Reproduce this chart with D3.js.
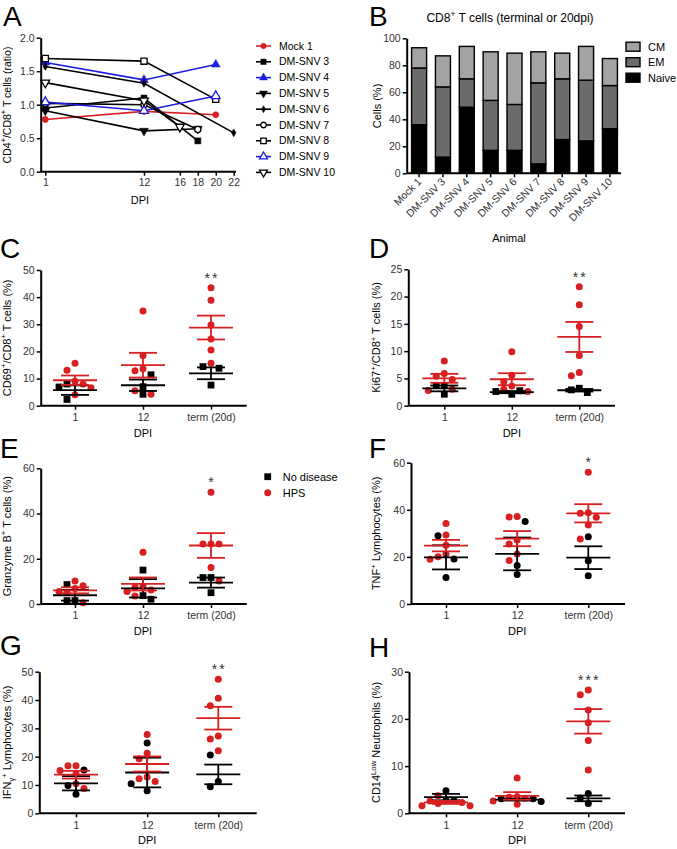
<!DOCTYPE html>
<html>
<head>
<meta charset="utf-8">
<script src="https://cdn.jsdelivr.net/npm/d3@7"></script>
<style>
body { margin: 0; background: #fff; }
svg text { font-family: "Liberation Sans", Arial, Helvetica, sans-serif; }
</style>
</head>
<body>
<script>
'use strict';

// ---- panel A : CD4/CD8 ratio over time ----
const animals = ["Mock 1", "DM-SNV 3", "DM-SNV 4", "DM-SNV 5", "DM-SNV 6", "DM-SNV 7", "DM-SNV 8", "DM-SNV 9", "DM-SNV 10"];
const ratioTicks = [1, 12, 16, 18, 20, 22];
const ratioDays = [[1, 12, 20], [1, 12, 18], [1, 12, 20], [1, 12, 18], [1, 12, 22], [1, 12, 18], [1, 12, 20], [1, 12, 20], [1, 12, 16]];
const ratioValues = [
  [0.78, 0.90, 0.85], [0.95, 1.10, 0.46], [1.63, 1.37, 1.60], [0.91, 0.61, 0.64], [1.57, 1.32, 0.58],
  [1.02, 1.00, 0.63], [1.69, 1.65, 1.08], [1.04, 0.91, 1.13], [1.33, 1.06, 0.67]
];

// ---- panel B : CD8 subsets ----
const subsets = ["Naive", "EM", "CM"];
const naivePct = [36, 12, 49, 17, 17, 7, 25, 24, 33];
const emPct = [42, 52, 21, 37, 34, 60, 45, 45, 32];
const cmPct = [15, 23, 24, 36, 38, 23, 19, 25, 20];

// ---- panels C-H : per time point, no disease vs HPS ----
const dpiLabels = ["1", "12", "term (20d)"];
const cd69NoDisease = [[8.0, 2.3, 6.9], [11.4, 7.0, 4.2], [14.4, 13.8, 7.6]];
const cd69Hps = [[15.6, 13.1, 9.0, 8.0, 6.6, 4.0], [34.9, 18.5, 13.6, 12.9, 5.5, 4.2], [43.5, 38.9, 29.7, 24.6, 20.5, 15.6]];
const ki67NoDisease = [[3.7, 3.7, 2.1], [2.1, 2.6, 2.75], [3.2, 2.4, 2.9]];
const ki67Hps = [[8.2, 5.9, 5.4, 4.8, 3.0, 2.8], [9.9, 5.6, 4.4, 3.6, 3.0, 2.6], [21.8, 18.5, 14.5, 9.2, 6.1, 5.5]];
const grzbNoDisease = [[8.6, 1.5, 1.5], [15.0, 3.7, 2.1], [11.7, 11.7, 5.0]];
const grzbHps = [[10.2, 8.1, 6.9, 5.5, 5.0, 0.6], [22.9, 7.7, 7.4, 6.2, 5.5, 3.5], [49.4, 26.5, 26.5, 26.5, 16.1, 10.2]];
const tnfNoDisease = [[29.0, 19.1, 11.3], [35.0, 16.3, 12.5], [28.6, 18.4, 12.0]];
const tnfHps = [[34.2, 29.3, 25.0, 21.1, 20.1, 19.0], [37.2, 36.9, 27.2, 25.5, 21.2, 18.5], [55.9, 38.8, 38.5, 36.8, 33.5, 27.6]];
const ifngNoDisease = [[15.3, 9.8, 6.7], [24.8, 10.4, 8.0], [20.6, 11.2, 9.4]];
const ifngHps = [[16.8, 16.8, 15.1, 13.9, 10.4, 8.8], [27.8, 21.2, 19.3, 12.8, 12.2, 11.2], [47.3, 40.6, 38.0, 27.3, 26.2, 22.1]];
const cd14NoDisease = [[4.8, 2.75, 2.75], [3.1, 3.1, 2.5], [4.2, 2.1, 3.2]];
const cd14Hps = [[3.7, 2.6, 2.3, 2.1, 1.6, 1.6], [7.5, 3.5, 3.4, 3.2, 2.6, 1.9], [26.1, 25.1, 21.9, 19.2, 15.4, 9.2]];
const termStars = ["**", "**", "*", "*", "**", "***"];
const groupNames = ["No disease", "HPS"];

const RED = "#d81f22", BLUE = "#1d1de0", TICK = "#333";

const svg = d3.select("body").append("svg")
  .attr("width", 677)
  .attr("height", 849);

// text with super/subscript pieces
function richText(sel, parts, size) {
  let shift = 0;
  parts.forEach(([t, kind]) => {
    const target = kind === "sup" ? -0.4 * size : kind === "sub" ? 0.25 * size : 0;
    sel.append("tspan")
      .attr("dy", target - shift)
      .attr("font-size", kind ? size * 0.7 : size)
      .text(t);
    shift = target;
  });
  return sel;
}

function yLabel(x, yMid, parts, size) {
  const t = svg.append("text")
    .attr("transform", `translate(${x},${yMid}) rotate(-90)`)
    .attr("text-anchor", "middle")
    .attr("dy", "0.35em");
  richText(t, parts, size || 11);
}

function letter(ch, x, y) {
  svg.append("text").attr("x", x).attr("y", y).attr("font-size", 28).text(ch);
}

function styleAxis(ax) {
  ax.attr("font-family", null).attr("font-size", null);
  ax.select(".domain").attr("stroke-width", 2);
  ax.selectAll(".tick line").attr("stroke-width", 1.5);
  ax.selectAll(".tick text").attr("font-size", 10.5).attr("fill", TICK);
}

function marker(g, kind, color, x, y, size) {
  const open = kind.endsWith("Open");
  const base = kind.replace("Open", "");
  const type = {
    circle: d3.symbolCircle, square: d3.symbolSquare, triangle: d3.symbolTriangle,
    triangleDown: d3.symbolTriangle, diamond: d3.symbolDiamond
  }[base];
  g.append("path")
    .attr("d", d3.symbol(type, size)())
    .attr("transform", `translate(${x},${y}) rotate(${base === "triangleDown" ? 180 : 0})`)
    .attr("fill", open ? "#fff" : color)
    .attr("stroke", color)
    .attr("stroke-width", open ? 1.3 : 0.5);
}

// ================= panel A =================
function drawPanelA() {
  const x = d3.scaleLinear().domain([1, 22]).range([45.3, 233.7]);
  const y = d3.scaleLinear().domain([0, 2]).range([171.7, 37.7]);
  const colors = [RED, "#000", BLUE, "#000", "#000", "#000", "#000", BLUE, "#000"];
  const kinds = ["circle", "square", "triangle", "triangleDown", "diamond", "circleOpen", "squareOpen", "triangleOpen", "triangleDownOpen"];
  const sizes = [30, 36, 34, 34, 18, 30, 38, 34, 34];
  const g = svg.append("g");

  const line = d3.line().x(d => x(d[0])).y(d => y(d[1]));
  animals.forEach((a, i) => {
    const pts = d3.zip(ratioDays[i], ratioValues[i]);
    g.append("path").datum(pts)
      .attr("d", line).attr("fill", "none")
      .attr("stroke", colors[i]).attr("stroke-width", 1.6);
  });
  animals.forEach((a, i) => {
    ratioDays[i].forEach((d, j) => marker(g, kinds[i], colors[i], x(d), y(ratioValues[i][j]), sizes[i]));
  });

  const ya = svg.append("g").attr("transform", "translate(40.7,0)")
    .call(d3.axisLeft(y).tickValues([0, 0.5, 1, 1.5, 2]).tickFormat(d3.format(".1f")).tickSize(4).tickSizeOuter(0).tickPadding(2));
  styleAxis(ya);
  const xa = svg.append("g").attr("transform", "translate(0,171.7)")
    .call(d3.axisBottom(x).tickValues(ratioTicks).tickSize(4).tickPadding(3));
  xa.select(".domain").remove();
  styleAxis(xa);
  svg.append("line").attr("x1", 40.7).attr("x2", 236).attr("y1", 171.7).attr("y2", 171.7)
    .attr("stroke", "#000").attr("stroke-width", 2);
  svg.append("text").attr("x", 140).attr("y", 204).attr("text-anchor", "middle").attr("font-size", 11).text("DPI");
  yLabel(10.5, 105, [["CD4"], ["+", "sup"], ["/CD8"], ["+", "sup"], [" T cells (ratio)"]], 10.5);

  // legend
  const lg = svg.append("g");
  animals.forEach((a, i) => {
    const ly = 46 + i * 15.8;
    lg.append("line").attr("x1", 256).attr("x2", 271).attr("y1", ly).attr("y2", ly)
      .attr("stroke", colors[i]).attr("stroke-width", 1.6);
    marker(lg, kinds[i], colors[i], 263.5, ly, sizes[i] * 0.8);
    lg.append("text").attr("x", 279).attr("y", ly).attr("dy", "0.35em").attr("font-size", 10.5).text(a);
  });
  letter("A", 3, 26);
}

// ================= panel B =================
function drawPanelB() {
  const x = d3.scaleBand().domain(animals).range([408, 621]).paddingInner(0.37).paddingOuter(0.15);
  const y = d3.scaleLinear().domain([0, 100]).range([173.3, 38.3]);
  const fills = { Naive: "#000", EM: "#6b6b6b", CM: "#a3a3a3" };
  const rows = animals.map((a, i) => ({ animal: a, Naive: naivePct[i], EM: emPct[i], CM: cmPct[i] }));
  const series = d3.stack().keys(subsets)(rows);

  svg.append("g").selectAll("g").data(series).join("g")
    .attr("fill", d => fills[d.key])
    .selectAll("rect").data(d => d).join("rect")
    .attr("x", d => x(d.data.animal))
    .attr("width", x.bandwidth())
    .attr("y", d => y(d[1]))
    .attr("height", d => y(d[0]) - y(d[1]))
    .attr("stroke", "#000").attr("stroke-width", 1.4);

  const ya = svg.append("g").attr("transform", "translate(406.7,0)")
    .call(d3.axisLeft(y).tickValues([0, 20, 40, 60, 80, 100]).tickSize(4).tickSizeOuter(0).tickPadding(2));
  styleAxis(ya);
  const xa = svg.append("g").attr("transform", "translate(0,173.3)")
    .call(d3.axisBottom(x).tickSize(4).tickSizeOuter(0));
  xa.select(".domain").remove();
  styleAxis(xa);
  xa.selectAll(".tick text")
    .attr("text-anchor", "end")
    .attr("dy", null).attr("y", 0)
    .attr("transform", "translate(3,9) rotate(-45)");
  svg.append("line").attr("x1", 406.7).attr("x2", 621).attr("y1", 173.3).attr("y2", 173.3)
    .attr("stroke", "#000").attr("stroke-width", 2);

  const t = svg.append("text").attr("x", 510).attr("y", 22).attr("text-anchor", "middle");
  richText(t, [["CD8"], ["+", "sup"], [" T cells (terminal or 20dpi)"]], 12);
  svg.append("text").attr("x", 509).attr("y", 242).attr("text-anchor", "middle").attr("font-size", 11).text("Animal");
  yLabel(381, 106, [["Cells (%)"]]);

  subsets.slice().reverse().forEach((s, i) => {
    const ly = 46.7 + i * 15.5;
    svg.append("rect").attr("x", 626).attr("y", ly - 4.5).attr("width", 14).attr("height", 9)
      .attr("fill", fills[s]).attr("stroke", "#000").attr("stroke-width", 1.4);
    svg.append("text").attr("x", 648).attr("y", ly).attr("dy", "0.35em").attr("font-size", 11).text(s);
  });
  letter("B", 369, 26);
}

// ================= scatter panels C-H =================
function dodge(pts, step, minDist) {
  const placed = [];
  pts.slice().sort((a, b) => a.py - b.py).forEach(p => {
    for (let k = 0; k < 30; k++) {
      const off = (k % 2 ? -1 : 1) * Math.ceil(k / 2) * step;
      if (placed.every(q => Math.hypot(q.dx - off, q.py - p.py) >= minDist)) { p.dx = off; break; }
    }
    placed.push(p);
  });
}

function scatterPanel(o) {
  const x = d3.scalePoint().domain(dpiLabels).range(o.cats);
  const y = d3.scaleLinear().domain([0, o.max]).range(o.yr);
  const g = svg.append("g");

  const pts = [];
  dpiLabels.forEach((c, ci) => {
    const group = [];
    o.black[ci].forEach(v => group.push({ c, v, red: false, py: y(v) }));
    o.red[ci].forEach(v => group.push({ c, v, red: true, py: y(v) }));
    dodge(group, 8, 7.4);
    pts.push(...group);
  });

  const drawPts = list => list.forEach(p => {
    const cx = x(p.c) + p.dx;
    if (p.red || !o.squares) {
      g.append("circle").attr("cx", cx).attr("cy", p.py).attr("r", 3.5).attr("fill", p.red ? RED : "#000");
    } else {
      g.append("rect").attr("x", cx - 3.4).attr("y", p.py - 3.4).attr("width", 6.8).attr("height", 6.8).attr("fill", "#000");
    }
  });
  drawPts(pts.filter(p => !p.red));
  drawPts(pts.filter(p => p.red));

  // mean +/- SEM
  [[o.black, "#000"], [o.red, RED]].forEach(([vals, col]) => {
    dpiLabels.forEach((c, ci) => {
      const v = vals[ci];
      const m = d3.mean(v), se = d3.deviation(v) / Math.sqrt(v.length);
      const cx = x(c);
      const seg = (x1, x2, y1, y2) => g.append("line").attr("x1", x1).attr("x2", x2).attr("y1", y1).attr("y2", y2)
        .attr("stroke", col).attr("stroke-width", 1.8);
      seg(cx - 22, cx + 22, y(m), y(m));
      seg(cx, cx, y(m - se), y(m + se));
      seg(cx - 14, cx + 14, y(m + se), y(m + se));
      seg(cx - 14, cx + 14, y(m - se), y(m - se));
    });
  });

  // significance stars above highest point of terminal group
  const top = d3.max(o.red[2].concat(o.black[2]));
  svg.append("text").attr("x", x(dpiLabels[2]) + 1).attr("y", y(top) - 5)
    .attr("text-anchor", "middle").attr("font-size", 14).attr("letter-spacing", 2).attr("fill", TICK)
    .text(o.stars);

  const ya = svg.append("g").attr("transform", `translate(${o.x0},0)`)
    .call(d3.axisLeft(y).tickValues(o.ticks).tickSize(4).tickSizeOuter(0).tickPadding(2));
  styleAxis(ya);
  const xa = svg.append("g").attr("transform", `translate(0,${o.yr[0]})`)
    .call(d3.axisBottom(x).tickSize(4).tickPadding(4));
  xa.select(".domain").remove();
  styleAxis(xa);
  svg.append("line").attr("x1", o.x0).attr("x2", o.x1).attr("y1", o.yr[0]).attr("y2", o.yr[0])
    .attr("stroke", "#000").attr("stroke-width", 2);

  svg.append("text").attr("x", (o.cats[0] + o.cats[1]) / 2).attr("y", o.yr[0] + 31)
    .attr("text-anchor", "middle").attr("font-size", 11).text("DPI");
  yLabel(o.labelX, (o.yr[0] + o.yr[1]) / 2, o.label);
  letter(o.letter, o.letterXY[0], o.letterXY[1]);

  if (o.legend) {
    const [lx, ly] = o.legend;
    svg.append("rect").attr("x", lx - 3.4).attr("y", ly - 3.4).attr("width", 6.8).attr("height", 6.8).attr("fill", "#000");
    svg.append("circle").attr("cx", lx).attr("cy", ly + 16).attr("r", 3.5).attr("fill", RED);
    groupNames.forEach((n, i) => svg.append("text").attr("x", lx + 15).attr("y", ly + i * 16)
      .attr("dy", "0.35em").attr("font-size", 11).text(n));
  }
}

window.onload = function () {
  drawPanelA();
  drawPanelB();

  scatterPanel({
    letter: "C", letterXY: [0, 258], x0: 40.7, x1: 246.7, cats: [75, 211], yr: [405.7, 270], max: 50,
    ticks: [0, 10, 20, 30, 40, 50], labelX: 10.5, squares: true, black: cd69NoDisease, red: cd69Hps, stars: termStars[0],
    label: [["CD69"], ["+", "sup"], ["/CD8"], ["+", "sup"], [" T cells (%)"]]
  });
  scatterPanel({
    letter: "D", letterXY: [369, 258], x0: 408.3, x1: 615, cats: [444.3, 579.3], yr: [405.7, 269.3], max: 25,
    ticks: [0, 5, 10, 15, 20, 25], labelX: 380, squares: true, black: ki67NoDisease, red: ki67Hps, stars: termStars[1],
    label: [["Ki67"], ["+", "sup"], ["/CD8"], ["+", "sup"], [" T cells (%)"]]
  });
  scatterPanel({
    letter: "E", letterXY: [0, 458], x0: 40.7, x1: 246.7, cats: [75, 211], yr: [604, 468.3], max: 60,
    ticks: [0, 20, 40, 60], labelX: 10.5, squares: true, black: grzbNoDisease, red: grzbHps, stars: termStars[2],
    label: [["Granzyme B"], ["+", "sup"], [" T cells (%)"]], legend: [267.7, 476.7]
  });
  scatterPanel({
    letter: "F", letterXY: [369, 458], x0: 411, x1: 625, cats: [446, 588.3], yr: [604, 462.7], max: 60,
    ticks: [0, 20, 40, 60], labelX: 380, squares: false, black: tnfNoDisease, red: tnfHps, stars: termStars[3],
    label: [["TNF"], ["+", "sup"], [" Lymphocytes (%)"]]
  });
  scatterPanel({
    letter: "G", letterXY: [0, 655], x0: 39.3, x1: 256.7, cats: [76, 218.3], yr: [813.3, 671.7], max: 50,
    ticks: [0, 10, 20, 30, 40, 50], labelX: 11, squares: false, black: ifngNoDisease, red: ifngHps, stars: termStars[4],
    label: [["IFN"], ["γ", "sub"], ["+", "sup"], [" Lymphocytes (%)"]]
  });
  scatterPanel({
    letter: "H", letterXY: [369, 657], x0: 409, x1: 625, cats: [446, 588.3], yr: [813.3, 671.7], max: 30,
    ticks: [0, 10, 20, 30], labelX: 380, squares: false, black: cd14NoDisease, red: cd14Hps, stars: termStars[5],
    label: [["CD14"], ["Low", "sup"], [" Neutrophils (%)"]]
  });
};
</script>
</body>
</html>
